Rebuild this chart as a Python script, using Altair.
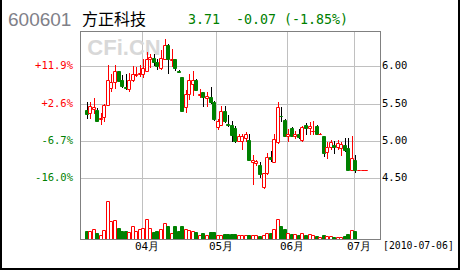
import altair as alt
import pandas as pd

# ---------------- data ----------------
dates = [
    "2010-03-10", "2010-03-11", "2010-03-12", "2010-03-15", "2010-03-16", "2010-03-17", "2010-03-18", "2010-03-19",
    "2010-03-22", "2010-03-23", "2010-03-24", "2010-03-25", "2010-03-26", "2010-03-29", "2010-03-30", "2010-03-31",
    "2010-04-01", "2010-04-02", "2010-04-06", "2010-04-07", "2010-04-08", "2010-04-09", "2010-04-12", "2010-04-13",
    "2010-04-14", "2010-04-15", "2010-04-16", "2010-04-19", "2010-04-20", "2010-04-21", "2010-04-22", "2010-04-23",
    "2010-04-26", "2010-04-27", "2010-04-28", "2010-04-29", "2010-04-30",
    "2010-05-04", "2010-05-05", "2010-05-06", "2010-05-07", "2010-05-10", "2010-05-11", "2010-05-12", "2010-05-13",
    "2010-05-14", "2010-05-17", "2010-05-18", "2010-05-19", "2010-05-20", "2010-05-21", "2010-05-24", "2010-05-25",
    "2010-05-26", "2010-05-27", "2010-05-28", "2010-05-31",
    "2010-06-01", "2010-06-02", "2010-06-03", "2010-06-04", "2010-06-07", "2010-06-08", "2010-06-09", "2010-06-10",
    "2010-06-11", "2010-06-17", "2010-06-18", "2010-06-21", "2010-06-22", "2010-06-23", "2010-06-24", "2010-06-25",
    "2010-06-28", "2010-06-29", "2010-06-30",
    "2010-07-01", "2010-07-02", "2010-07-05", "2010-07-06",
]
opens = [5.41, 5.37, 5.43, 5.41, 5.29, 5.32, 5.48, 5.71, 5.79, 5.93, 5.82, 5.72, 5.69, 5.82, 5.88, 5.89,
         5.89, 5.93, 6.09, 6.11, 6.06, 5.97, 6.10, 6.28, 6.08, 6.09, 5.94, 5.85, 5.46, 5.63, 5.76, 5.81,
         5.62, 5.65, 5.58, 5.59, 5.52,
         5.19, 5.22, 5.40, 5.23, 5.21, 5.18, 5.00, 5.00, 5.04, 5.01, 4.72, 4.71, 4.68, 4.39, 4.57, 4.78,
         4.72, 4.98, 5.34, 5.28,
         5.06, 5.17, 5.06, 5.10, 5.01, 5.21, 5.18, 5.13, 5.20, 5.10, 5.06, 4.85, 4.92, 4.95, 4.92, 4.91,
         4.94, 4.90, 4.61,
         4.75, 4.61, 4.61, 4.61]
highs = [5.52, 5.52, 5.58, 5.44, 5.38, 5.49, 6.02, 5.89, 6.02, 5.94, 5.88, 5.90, 5.91, 6.00, 5.99, 6.02,
         6.10, 6.19, 6.16, 6.16, 6.10, 6.22, 6.36, 6.30, 6.23, 6.10, 5.95, 5.86, 5.68, 5.90, 5.93, 5.83,
         5.70, 5.66, 5.65, 5.72, 5.53,
         5.29, 5.47, 5.47, 5.35, 5.27, 5.20, 5.09, 5.10, 5.12, 5.10, 4.81, 4.74, 4.72, 4.57, 4.84, 4.86,
         5.10, 5.52, 5.46, 5.30,
         5.16, 5.19, 5.13, 5.16, 5.20, 5.24, 5.25, 5.27, 5.21, 5.11, 5.06, 4.99, 5.01, 5.00, 5.01, 4.99,
         5.04, 5.04, 5.06,
         4.81, 4.61, 4.61, 4.61]
lows = [5.30, 5.30, 5.36, 5.25, 5.22, 5.25, 5.47, 5.66, 5.70, 5.79, 5.71, 5.68, 5.65, 5.79, 5.86, 5.86,
        5.84, 5.92, 5.97, 6.00, 5.95, 5.95, 6.08, 5.89, 5.99, 5.93, 5.91, 5.39, 5.38, 5.55, 5.60, 5.67,
        5.57, 5.45, 5.46, 5.50, 5.27,
        5.15, 5.20, 5.24, 5.19, 4.98, 4.97, 4.98, 4.88, 4.99, 4.73, 4.41, 4.66, 4.51, 4.36, 4.55, 4.72,
        4.70, 4.96, 5.25, 5.05,
        4.99, 5.05, 5.02, 5.03, 4.99, 5.08, 5.08, 5.08, 5.08, 5.09, 4.79, 4.76, 4.88, 4.83, 4.88, 4.80,
        4.85, 4.61, 4.60,
        4.57, 4.61, 4.61, 4.61]
closes = [5.36, 5.47, 5.46, 5.27, 5.31, 5.48, 5.82, 5.79, 5.93, 5.80, 5.74, 5.71, 5.82, 5.90, 5.90, 5.91,
          5.98, 6.10, 6.12, 6.05, 6.00, 6.11, 6.28, 6.09, 6.10, 5.97, 5.92, 5.40, 5.63, 5.82, 5.81, 5.68,
          5.63, 5.59, 5.60, 5.52, 5.30,
          5.27, 5.40, 5.27, 5.22, 5.08, 5.00, 5.06, 5.06, 5.10, 4.74, 4.74, 4.73, 4.56, 4.57, 4.78, 4.76,
          5.03, 5.46, 5.33, 5.07,
          5.09, 5.07, 5.09, 5.05, 5.19, 5.17, 5.20, 5.14, 5.10, 5.10, 4.84, 4.92, 4.98, 4.92, 4.97, 4.96,
          4.88, 4.61, 4.77,
          4.61, 4.61, 4.61, 4.61]
volumes = [77, 83, 103, 63, 43, 93, 383, 183, 193, 113, 83, 83, 70, 130, 77, 97,
           110, 200, 110, 70, 77, 103, 160, 133, 57, 133, 77, 133, 103, 93, 83, 67,
           37, 63, 40, 67, 73,
           37, 43, 47, 47, 53, 47, 40, 37, 40, 40, 37, 37, 33, 43, 57, 63,
           97, 200, 133, 97,
           60, 50, 50, 37, 57, 37, 47, 40, 33, 23, 43, 33, 27, 23, 20, 20,
           27, 47, 90,
           77, 0, 0, 0]

grid_prices = [4.5, 5.0, 5.5, 6.0]
price_labels = ["4.50", "5.00", "5.50", "6.00"]
pct_labels = ["-16.0%", "-6.7%", "+2.6%", "+11.9%"]
pct_colors = ["#008000", "#008000", "#ff0000", "#ff0000"]
month_pos = [15.5, 36.5, 56.5, 75.5]
month_labels = ["04月", "05月", "06月", "07月"]

df = pd.DataFrame({
    "i": list(range(len(dates))), "date": dates, "open": opens, "high": highs,
    "low": lows, "close": closes, "vol": volumes,
})
grid_df = pd.DataFrame({"price": grid_prices, "plabel": price_labels,
                        "pct": pct_labels, "pcolor": pct_colors})
month_df = pd.DataFrame({"pos": month_pos, "label": month_labels})
one = month_df.head(1)

# ---------------- scales ----------------
xs = alt.Scale(domain=[-0.492, 81.52], nice=False, zero=False, round=True)
ys = alt.Scale(domain=[3.693, 6.467], nice=False, zero=False, round=True)
vs = alt.Scale(domain=[0, 2080], nice=False, zero=True, round=True)

RED = "#ff0000"
GREEN = "#008000"
MONO = "DejaVu Sans Mono"
GRID = "#c0c0c0"
BORDER = "#808080"

up = alt.datum.close >= alt.datum.open

base = alt.Chart(df)

# gridlines as 1px filled rectangles
hgrid = alt.Chart(grid_df).mark_rect(color=GRID, y2Offset=1).encode(
    y=alt.Y("price:Q", scale=ys, axis=None), y2=alt.Y2("price:Q"),
    x=alt.value(0), x2=alt.value(300),
)
vgrid = alt.Chart(month_df).mark_rect(color=GRID, x2Offset=1).encode(
    x=alt.X("pos:Q", scale=xs, axis=None), x2=alt.X2("pos:Q"),
    y=alt.value(0), y2=alt.value(208),
)

vol_bars = base.transform_filter(alt.datum.vol > 0).mark_bar(
    size=3, strokeWidth=1, yOffset=0.5, y2Offset=0.5
).encode(
    x=alt.X("i:Q", scale=xs, axis=None),
    y=alt.Y("vol:Q", scale=vs, axis=None),
    y2=alt.datum(0),
    fill=alt.when(up).then(alt.value("white")).otherwise(alt.value(GREEN)),
    stroke=alt.when(up).then(alt.value(RED)).otherwise(alt.value(GREEN)),
)

wicks = base.transform_filter(alt.datum.vol > 0).mark_rule(strokeWidth=1, xOffset=0.5).encode(
    x=alt.X("i:Q", scale=xs, axis=None),
    y=alt.Y("low:Q", scale=ys, axis=None),
    y2="high:Q",
    stroke=alt.when(up).then(alt.value(RED)).otherwise(alt.value("#000000")),
)

bodies = base.mark_bar(size=3, strokeWidth=1, yOffset=0.5, y2Offset=0.5).encode(
    x=alt.X("i:Q", scale=xs, axis=None),
    y=alt.Y("open:Q", scale=ys, axis=None),
    y2="close:Q",
    fill=alt.when(up).then(alt.value("white")).otherwise(alt.value(GREEN)),
    stroke=alt.when(up).then(alt.value(RED)).otherwise(alt.value(GREEN)),
)

watermark = alt.Chart(one).mark_text(
    text="CFi.CN", font="Liberation Sans", fontSize=22, fontWeight="bold",
    color="#d8d8d8", align="center", baseline="middle",
).encode(x=alt.value(44), y=alt.value(17))

right_labels = alt.Chart(grid_df).mark_text(
    font=MONO, fontSize=10.5, align="left", baseline="middle", color="#000000",
).encode(
    y=alt.Y("price:Q", scale=ys, axis=None), x=alt.value(302), text="plabel:N",
)
left_labels = alt.Chart(grid_df).mark_text(
    font=MONO, fontSize=10.5, align="right", baseline="middle",
).encode(
    y=alt.Y("price:Q", scale=ys, axis=None), x=alt.value(-7), text="pct:N",
    color=alt.Color("pcolor:N", scale=None),
)
month_text = alt.Chart(month_df).mark_text(
    font=MONO, fontSize=11, align="center", baseline="middle", color="#000000", dx=5,
).encode(
    x=alt.X("pos:Q", scale=xs, axis=None), y=alt.value(216), text="label:N",
)
date_text = alt.Chart(one).mark_text(
    text="[2010-07-06]", font=MONO, fontSize=9.8, align="left", baseline="middle", color="#000000",
).encode(x=alt.value(303), y=alt.value(215))

code_text = alt.Chart(one).mark_text(
    text="600601", font="Liberation Sans", fontSize=19, align="left", baseline="middle", color="#808088",
).encode(x=alt.value(-72), y=alt.value(-11.5))
name_text = alt.Chart(one).mark_text(
    text="方正科技", font="Noto Sans CJK SC", fontSize=16, align="left", baseline="middle", color="#000000",
).encode(x=alt.value(2), y=alt.value(-11.5))
quote_text = alt.Chart(one).mark_text(
    text="3.71\u00a0\u00a0-0.07\u00a0(-1.85%)", font=MONO, fontSize=13.3, align="left",
    baseline="middle", color=GREEN,
).encode(x=alt.value(108), y=alt.value(-11.5))


def solid_rect(x1, x2, y1, y2, color):
    return alt.Chart(one).mark_rect(color=color).encode(
        x=alt.value(x1), x2=alt.value(x2), y=alt.value(y1), y2=alt.value(y2))


frames = [
    # grey border of the plot area
    solid_rect(0, 300, 0, 1, BORDER),
    solid_rect(0, 300, 208, 209, BORDER),
    solid_rect(0, 1, 0, 209, BORDER),
    solid_rect(300, 301, 0, 209, BORDER),
    # black outer frame (left, right, bottom)
    solid_rect(-80, -78, -31, 239, "#000000"),
    solid_rect(378, 380, -31, 239, "#000000"),
    solid_rect(-80, 380, 237, 239, "#000000"),
]

chart = alt.layer(
    hgrid, vgrid, watermark, vol_bars, wicks, bodies,
    right_labels, left_labels, month_text, date_text,
    code_text, name_text, quote_text, *frames,
).resolve_scale(y="independent").properties(
    width=300, height=208,
    padding={"left": 80, "top": 31, "right": 80, "bottom": 31},
    autosize=alt.AutoSizeParams(type="none"),
    background="white",
).configure_view(strokeWidth=0)

chart.save("out.html", embed_options={"renderer": "svg", "actions": False})
